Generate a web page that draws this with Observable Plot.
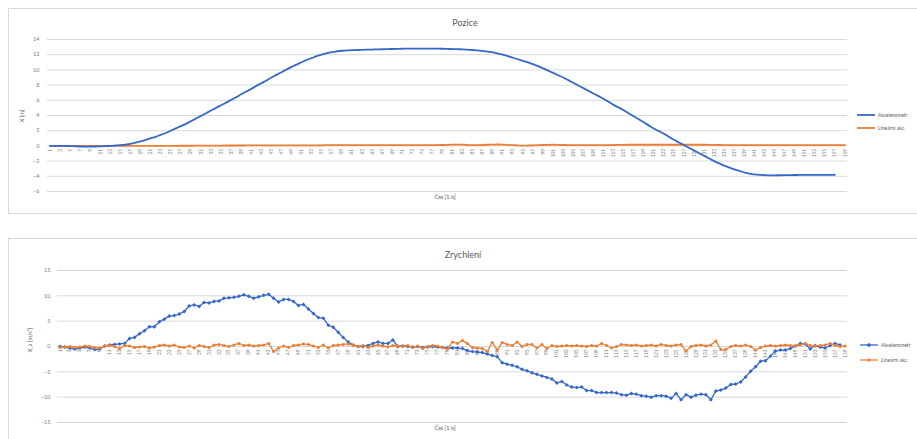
<!DOCTYPE html>
<html><head><meta charset="utf-8">
<script src="https://cdn.jsdelivr.net/npm/d3@7"></script>
<script src="https://cdn.jsdelivr.net/npm/@observablehq/plot@0.6"></script>
<style>
body{margin:0;background:#fff;width:917px;height:439px;overflow:hidden;position:relative;font-family:Lato,"Open Sans",sans-serif;color:#595959;}
.panel{position:absolute;left:8px;width:915px;border:1px solid #d9d9d9;box-sizing:border-box;}
.abs{position:absolute;white-space:nowrap;}
.title{font-size:9px;color:#595959;transform:translate(-50%,-50%);}
.xt{font-size:5.5px;color:#595959;transform:translate(-50%,-50%);}
.yt{font-size:5.5px;color:#595959;transform:translate(-50%,-50%) rotate(-90deg);}
.leg{font-size:5px;color:#595959;}
.plot{position:absolute;left:8px;}
</style></head><body>
<script>
// ---- data ----
const seriesNames = ["Akcelerometr", "Lineární akc."];
const posAkcel = [0,0,0,0,-0.02,-0.05,-0.08,-0.1,-0.1,-0.08,-0.05,-0.02,0,0.05,0.1,0.18,0.28,0.42,0.58,0.78,
1.0,1.2,1.45,1.7,2.0,2.3,2.6,2.9,3.25,3.6,3.95,4.3,4.65,5.0,5.35,5.7,6.05,6.4,6.8,7.15,
7.5,7.9,8.25,8.6,9.0,9.35,9.7,10.05,10.4,10.7,11.0,11.3,11.55,11.8,12.0,12.2,12.35,12.45,12.52,12.56,
12.6,12.62,12.64,12.66,12.68,12.7,12.72,12.74,12.75,12.76,12.78,12.79,12.8,12.8,12.8,12.8,12.8,12.79,12.78,12.76,
12.74,12.72,12.7,12.66,12.62,12.56,12.5,12.4,12.3,12.15,12.0,11.8,11.6,11.4,11.2,11.0,10.75,10.5,10.2,9.9,
9.6,9.3,9.0,8.65,8.3,7.95,7.6,7.25,6.9,6.55,6.2,5.8,5.4,5.05,4.7,4.3,3.9,3.5,3.1,2.7,
2.3,1.95,1.6,1.2,0.8,0.45,0.1,-0.25,-0.6,-0.95,-1.3,-1.65,-2.0,-2.3,-2.6,-2.85,-3.1,-3.3,-3.5,-3.65,
-3.75,-3.8,-3.85,-3.87,-3.87,-3.86,-3.85,-3.84,-3.83,-3.82,-3.82,-3.81,-3.81,-3.8,-3.8,-3.8,-3.8];
const posLinear = [0,0,0,0,0,0,0,0,0,0,0,0,0,0,0,0,0,0,0,0,
0,0,0,0.01,0.01,0.01,0.02,0.02,0.02,0.03,0.03,0.03,0.04,0.04,0.04,0.05,0.05,0.05,0.05,0.06,
0.06,0.06,0.06,0.06,0.07,0.07,0.07,0.07,0.07,0.08,0.08,0.08,0.08,0.08,0.08,0.09,0.09,0.09,0.09,0.09,
0.09,0.09,0.1,0.1,0.1,0.1,0.1,0.1,0.1,0.1,0.1,0.1,0.1,0.1,0.1,0.11,0.11,0.11,0.12,0.14,
0.16,0.18,0.16,0.12,0.1,0.1,0.12,0.15,0.18,0.2,0.18,0.14,0.1,0.06,0.04,0.05,0.08,0.1,0.12,0.14,
0.15,0.14,0.12,0.1,0.1,0.1,0.1,0.1,0.1,0.1,0.1,0.11,0.12,0.13,0.14,0.15,0.15,0.15,0.15,0.15,
0.15,0.15,0.15,0.15,0.15,0.15,0.15,0.15,0.15,0.15,0.15,0.14,0.13,0.12,0.11,0.1,0.1,0.1,0.1,0.1,
0.1,0.1,0.1,0.1,0.1,0.1,0.1,0.1,0.1,0.1,0.1,0.1,0.1,0.1,0.1,0.1,0.1,0.1,0.1];
const accAkcel = [0,-0.1,-0.3,-0.5,-0.3,-0.1,-0.3,-0.6,-0.5,0.1,
0.3,0.4,0.5,0.6,1.6,1.8,2.5,3.1,3.9,3.9,
4.9,5.4,6.0,6.1,6.4,6.9,8.0,8.2,7.9,8.7,
8.6,8.9,9.0,9.5,9.6,9.7,9.9,10.2,9.9,9.5,
9.8,10.1,10.3,9.5,8.8,9.3,9.3,8.9,8.1,8.3,
7.4,6.5,5.7,5.6,4.2,3.8,2.8,1.8,0.9,0.3,
0.0,0.0,0.2,0.6,0.9,0.6,0.6,1.3,0.0,0.1,
0.0,-0.1,0.0,-0.2,-0.1,0.0,-0.1,-0.2,-0.3,-0.3,
-0.3,-0.4,-0.8,-1.0,-1.1,-1.2,-1.5,-1.8,-2.0,-3.2,
-3.5,-3.7,-4.0,-4.5,-4.8,-5.2,-5.5,-5.8,-6.1,-6.4,
-7.2,-6.9,-7.6,-8.0,-8.1,-8.0,-8.7,-8.7,-9.1,-9.1,
-9.1,-9.1,-9.2,-9.5,-9.6,-9.3,-9.4,-9.7,-9.8,-10.0,
-9.7,-9.7,-9.8,-10.2,-9.3,-10.5,-9.5,-10.0,-9.6,-9.4,
-9.5,-10.5,-8.8,-8.6,-8.2,-7.5,-7.4,-7.0,-6.0,-4.9,
-4.0,-2.9,-2.8,-1.9,-0.9,-0.7,-0.7,-0.4,0.1,0.6,
0.5,-0.5,0.2,-0.1,-0.3,0.2,0.6,0.3];
const accLinear = [-0.2,-0.1,0.0,-0.2,-0.1,0.1,0.0,-0.2,-0.3,0.1,
0.2,0.0,-0.4,0.2,0.1,-0.2,-0.1,0.0,-0.3,-0.1,
0.2,0.3,0.1,0.3,-0.1,-0.2,0.1,-0.3,0.2,0.0,
-0.2,0.3,0.4,0.2,0.0,0.3,0.6,0.2,0.3,0.1,
0.2,0.3,0.6,-1.0,-0.3,0.1,-0.2,0.2,0.3,0.5,
0.4,0.1,-0.2,0.3,-0.3,0.2,0.3,0.4,0.5,0.2,
0.0,0.2,-0.2,0.1,0.3,0.1,-0.1,0.2,0.1,0.0,
0.2,-0.2,0.1,-0.4,0.0,0.2,0.1,-0.2,-0.5,0.9,
0.6,1.2,0.6,-0.2,-0.3,-0.4,-1.0,0.8,-0.7,0.8,
0.4,0.2,0.9,0.0,0.4,0.4,-0.3,0.4,-0.4,0.2,
0.0,0.1,0.2,0.1,0.2,0.1,0.0,0.2,0.1,0.6,
0.2,-0.3,0.0,0.4,0.3,0.2,0.3,0.1,0.2,0.3,
0.1,0.4,0.2,0.1,0.3,0.4,-0.9,0.0,0.2,0.3,
0.1,0.3,1.1,-0.6,-0.6,0.0,0.2,0.1,0.3,0.0,
-0.7,-0.2,0.1,0.2,0.1,0.2,0.3,0.2,0.1,0.3,
0.6,0.2,0.1,0.2,0.3,0.6,0.2,0.0,0.1];
const categories = d3.range(1, 160);          // Čas [1/s] categories 1..159
const tickLabels = categories.filter(c => c % 2 === 1);
const posTicks = [-6,-4,-2,0,2,4,6,8,10,12,14];
const accTicks = [-15,-10,-5,0,5,10,15];
const titles = ["Pozice", "Zrychlení"];
const yTitles = ["X [m]", "X_a [m/s²]"];
const xTitle = "Čas [1/s]";
const colors = ["#3568c8", "#ed7d31"];
</script>

<div class="panel" style="top:8px;height:206px"></div>
<div class="panel" style="top:238px;height:210px"></div>
<div id="top" class="plot" style="top:8px"></div>
<div id="bot" class="plot" style="top:238px"></div>

<script>
const toRows = (arr, s) => arr.map((v, i) => ({t: categories[i], v, s}));
const font = {fontFamily: "Lato, 'Open Sans', sans-serif", background: "transparent", overflow: "visible"};

const topPlot = Plot.plot({
  width: 909, height: 205,
  marginLeft: 39, marginRight: 70, marginTop: 31, marginBottom: 22,
  style: font,
  x: {domain: [0.5, 159.5], axis: null},
  y: {domain: [-6, 14], axis: null},
  color: {domain: seriesNames, range: colors},
  marks: [
    Plot.gridY(posTicks, {stroke: "#d9d9d9", strokeOpacity: 1}),
    Plot.axisY(posTicks, {tickSize: 0, tickPadding: 8, fontSize: 5.5, fill: "#7a7a7a", label: null}),
    Plot.text(tickLabels, {x: d => d, y: 0, text: d => String(d), rotate: -90, textAnchor: "end", dy: 3, fontSize: 4.8, fill: "#7a7a7a"}),
    Plot.line(toRows(posLinear, seriesNames[1]), {x: "t", y: "v", stroke: "s", strokeWidth: 1.8}),
    Plot.line(toRows(posAkcel, seriesNames[0]), {x: "t", y: "v", stroke: "s", strokeWidth: 1.8, curve: "monotone-x"})
  ]
});
document.getElementById("top").appendChild(topPlot);

const botPlot = Plot.plot({
  width: 909, height: 201,
  marginLeft: 49, marginRight: 70, marginTop: 32, marginBottom: 17,
  style: font,
  x: {domain: [0.5, 159.5], axis: null},
  y: {domain: [-15, 15], axis: null},
  color: {domain: seriesNames, range: colors},
  marks: [
    Plot.gridY(accTicks, {stroke: "#d9d9d9", strokeOpacity: 1}),
    Plot.axisY(accTicks, {tickSize: 0, tickPadding: 7, fontSize: 5.5, fill: "#7a7a7a", label: null}),
    Plot.text(tickLabels, {x: d => d, y: 0, text: d => String(d), rotate: -90, textAnchor: "end", dy: 3, fontSize: 4.8, fill: "#7a7a7a"}),
    Plot.line(toRows(accAkcel, seriesNames[0]), {x: "t", y: "v", stroke: "s", strokeWidth: 1.3}),
    Plot.dot(toRows(accAkcel, seriesNames[0]), {x: "t", y: "v", fill: "s", symbol: "diamond2", r: 1.8}),
    Plot.line(toRows(accLinear, seriesNames[1]), {x: "t", y: "v", stroke: "s", strokeWidth: 1.3}),
    Plot.dot(toRows(accLinear, seriesNames[1]), {x: "t", y: "v", fill: "s", symbol: "circle", r: 1.5})
  ]
});
document.getElementById("bot").appendChild(botPlot);

// titles & legends as real text
function addText(cls, txt, x, y) {
  const d = document.createElement("div");
  d.className = "abs " + cls; d.textContent = txt;
  d.style.left = x + "px"; d.style.top = y + "px";
  document.body.appendChild(d);
}
addText("title", titles[0], 465, 22);
addText("title", titles[1], 463, 254);
addText("yt", yTitles[0], 22, 116);
addText("yt", yTitles[1], 30, 340);
addText("xt", xTitle, 445, 197);
addText("xt", xTitle, 445, 428);

function legend(y0, gap, x0, withMarkers) {
  seriesNames.forEach((name, i) => {
    const y = y0 + i * gap;
    const svg = d3.create("svg").attr("width", 20).attr("height", 6)
      .style("position", "absolute").style("left", x0 + "px").style("top", (y - 3) + "px");
    svg.append("line").attr("x1", 1).attr("x2", 19).attr("y1", 3).attr("y2", 3)
      .attr("stroke", colors[i]).attr("stroke-width", withMarkers ? 1.3 : 1.8);
    if (withMarkers) {
      svg.append("path").attr("transform", "translate(10,3)")
        .attr("d", d3.symbol(i === 0 ? d3.symbolDiamond2 : d3.symbolCircle, i === 0 ? 14 : 8)())
        .attr("fill", colors[i]);
    }
    document.body.appendChild(svg.node());
    const t = document.createElement("div");
    t.className = "abs leg"; t.textContent = name;
    t.style.left = (x0 + 22) + "px"; t.style.top = (y - 3.5) + "px";
    document.body.appendChild(t);
  });
}
legend(115, 13, 856, false);
legend(345, 15, 859, true);
</script>
</body></html>
